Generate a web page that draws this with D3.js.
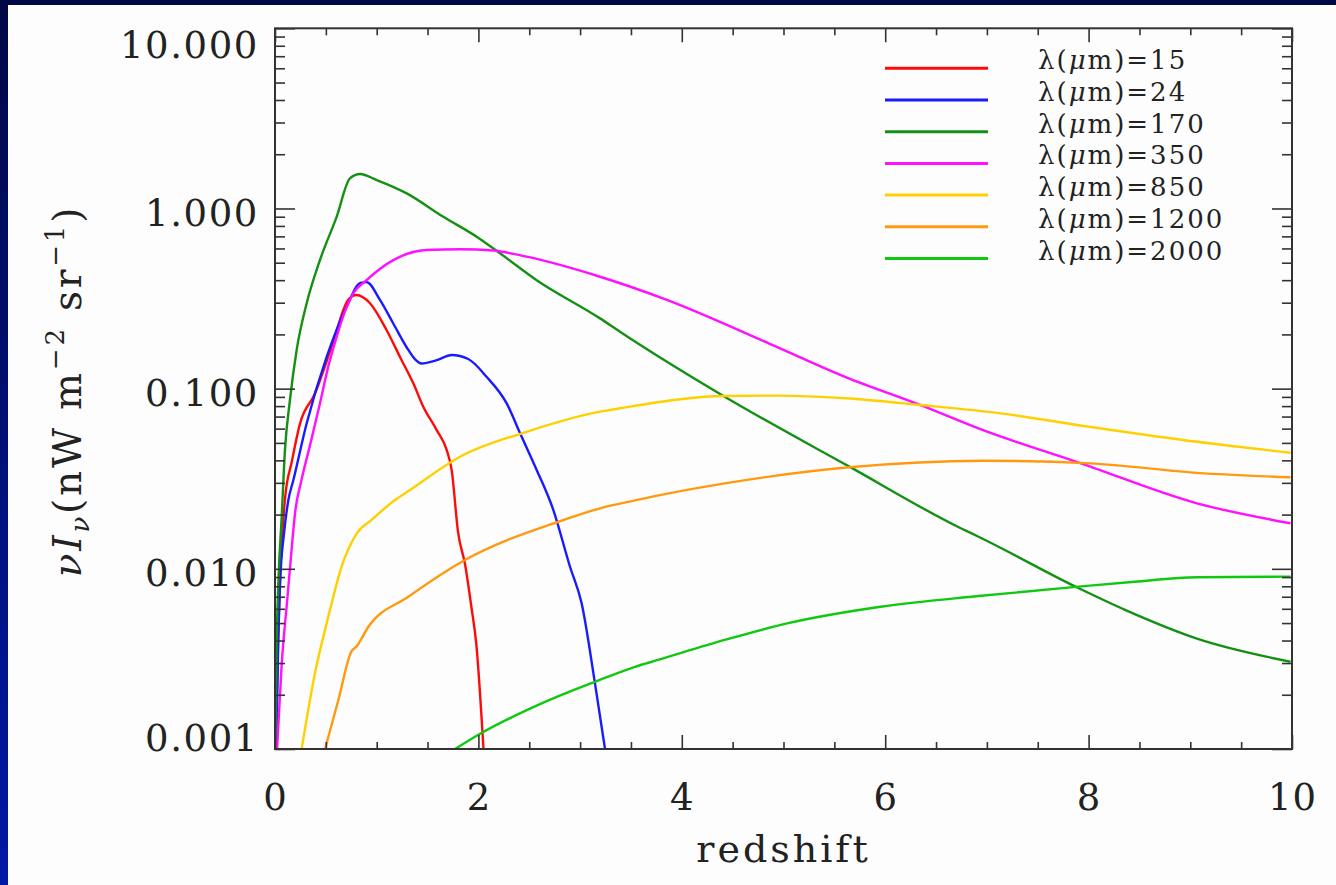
<!DOCTYPE html>
<html><head><meta charset="utf-8">
<script src="https://cdn.jsdelivr.net/npm/d3@7"></script>
<style>html,body{margin:0;padding:0;background:#fff;overflow:hidden}</style>
</head><body><svg id="c" width="1336" height="885"></svg>
<script>
// ---- data ----
const legendLabels = ["15","24","170","350","850","1200","2000"];
const seriesColors = ["#ff0a0a","#1a1aff","#149014","#ff10ff","#ffd000","#ff9a10","#10c810"];

const z15 = [0.008,0.03,0.05,0.1,0.164,0.246,0.393,0.557,0.72,0.80,0.934,1.098,1.229,1.36,1.458,1.59,1.688,1.737,1.80,1.87,1.93,1.98,2.05];
const v15 = [0.001,0.004,0.009,0.025,0.039,0.064,0.094,0.171,0.311,0.331,0.298,0.211,0.150,0.107,0.0794,0.0589,0.0457,0.0354,0.016,0.0105,0.0062,0.0038,0.001];

const z24 = [0.012,0.03,0.05,0.09,0.131,0.18,0.311,0.508,0.705,0.84,0.90,1.032,1.163,1.311,1.38,1.442,1.59,1.737,1.90,2.08,2.278,2.41,2.573,2.737,2.90,3.015,3.146,3.245];
const v24 = [0.001,0.0035,0.0083,0.016,0.024,0.031,0.064,0.150,0.285,0.386,0.39,0.311,0.230,0.164,0.145,0.138,0.144,0.1536,0.146,0.1164,0.0828,0.0565,0.0354,0.0212,0.0103,0.00644,0.00232,0.001];

const z170 = [0.003,0.015,0.033,0.066,0.098,0.147,0.213,0.311,0.442,0.606,0.737,0.836,1.0,1.295,1.655,1.983,2.212,2.573,3.196,3.392,4.422,5.648,6.743,6.918,7.904,8.364,9.065,9.985];
const v170 = [0.001,0.0035,0.0083,0.0195,0.0457,0.0865,0.164,0.297,0.517,0.899,1.469,1.553,1.438,1.213,0.899,0.697,0.564,0.40,0.2455,0.207,0.0902,0.0369,0.0168,0.01507,0.0078,0.0059,0.0041,0.00305];

const z350 = [0.02,0.065,0.12,0.15,0.2,0.26,0.35,0.442,0.52,0.606,0.70,0.77,0.90,1.163,1.49,1.82,2.147,2.475,3.196,3.853,4.86,5.605,6.349,6.963,7.925,9.065,9.985];
const v350 = [0.001,0.0029,0.0067,0.0105,0.021,0.031,0.050,0.0828,0.13,0.194,0.28,0.338,0.40,0.517,0.588,0.594,0.584,0.540,0.418,0.311,0.178,0.1164,0.0811,0.0589,0.0385,0.0231,0.0179];

const z850 = [0.262,0.393,0.524,0.655,0.803,0.95,1.18,1.327,1.819,2.475,3.196,3.392,4.422,4.948,5.605,6.349,7.137,8.014,9.065,9.985];
const v850 = [0.001,0.00263,0.00542,0.0103,0.0157,0.0187,0.0241,0.0274,0.0419,0.0576,0.0745,0.0778,0.091,0.0915,0.0885,0.0811,0.0729,0.0614,0.0507,0.0441];

const z1200 = [0.492,0.623,0.754,0.80,0.918,1.311,1.868,2.786,3.196,3.54,4.422,5.648,6.963,8.014,9.065,9.985];
const v1200 = [0.001,0.00187,0.0035,0.0037,0.00477,0.007,0.0112,0.01825,0.02166,0.024,0.0298,0.0366,0.0398,0.0385,0.0341,0.0322];

const z2000 = [1.77,2.0,2.622,3.146,3.54,3.765,4.422,5.036,5.955,6.918,7.904,8.452,9.065,9.985];
const v2000 = [0.001,0.0012,0.00179,0.00236,0.00286,0.00312,0.00403,0.00498,0.00616,0.00706,0.00796,0.00848,0.00898,0.00905];

const xMajorTicks = [0,2,4,6,8,10];
const yMajorTicks = [0.001,0.01,0.1,1,10];
const xTitle = "redshift";

// ---- layout ----
const W = 1336, H = 885;
const L = 275, R = 1292, T = 28.3, B = 749;
const svg = d3.select("#c");
const font = "DejaVu Serif";

const defs = svg.append("defs");
const grad = defs.append("linearGradient").attr("id","bg").attr("x1",0).attr("y1",0).attr("x2",0).attr("y2",1);
grad.append("stop").attr("offset","0%").attr("stop-color","#000846");
grad.append("stop").attr("offset","100%").attr("stop-color","#0019a6");
svg.append("rect").attr("width",W).attr("height",H).attr("fill","url(#bg)");
svg.append("rect").attr("x",8).attr("y",5).attr("width",W-8).attr("height",H-5).attr("fill","#fdfdfd");

defs.append("clipPath").attr("id","plotclip").append("rect")
  .attr("x",L).attr("y",T).attr("width",R-L).attr("height",B-T);

const x = d3.scaleLinear().domain([0,10]).range([L,R]);
const y = d3.scaleLog().domain([0.001,10]).range([B,T]);

const xMinor = d3.range(0,10.01,0.5).filter(v => !xMajorTicks.includes(v));
const yMinor = [];
yMajorTicks.slice(0,-1).forEach(d => { for (let k=2;k<=9;k++) yMinor.push(d*k); });

// ---- curves ----
const series = [[z15,v15],[z24,v24],[z170,v170],[z350,v350],[z850,v850],[z1200,v1200],[z2000,v2000]];
const line = d3.line().x(d => x(d[0])).y(d => y(d[1])).curve(d3.curveMonotoneX);
const gLines = svg.append("g").attr("clip-path","url(#plotclip)");
series.forEach((s,i) => {
  const pts = s[0].map((z,j) => [z, s[1][j]]);
  gLines.append("path").datum(pts).attr("d",line)
    .attr("fill","none").attr("stroke",seriesColors[i]).attr("stroke-width",2.4)
    .attr("stroke-linejoin","round");
});

// ---- axes ----
const tickColor = "#333";
function styleAxis(g){
  g.select(".domain").remove();
  g.selectAll(".tick line").attr("stroke",tickColor).attr("stroke-width",1.6);
}
// bottom
const gxb = svg.append("g").attr("transform",`translate(0,${B})`)
  .call(d3.axisBottom(x).tickValues(xMajorTicks).tickSize(-14).tickFormat(d3.format("d")));
styleAxis(gxb);
gxb.selectAll("text").attr("y",61).attr("dy",0).attr("font-family",font).attr("font-size",37)
  .attr("fill","#222").attr("letter-spacing",1);
svg.append("g").attr("transform",`translate(0,${B})`)
  .call(d3.axisBottom(x).tickValues(xMinor).tickSize(-7).tickFormat("")).call(styleAxis);
// top
svg.append("g").attr("transform",`translate(0,${T})`)
  .call(d3.axisTop(x).tickValues(xMajorTicks).tickSize(-14).tickFormat("")).call(styleAxis);
svg.append("g").attr("transform",`translate(0,${T})`)
  .call(d3.axisTop(x).tickValues(xMinor).tickSize(-7).tickFormat("")).call(styleAxis);
// left
const gyl = svg.append("g").attr("transform",`translate(${L},0)`)
  .call(d3.axisLeft(y).tickValues(yMajorTicks).tickSize(-20).tickFormat(d3.format(".3f")));
styleAxis(gyl);
gyl.selectAll("text").attr("x",-16).attr("dy",0)
  .attr("y", d => d === 10 ? 29 : (d === 0.001 ? 1 : 17))
  .attr("font-family",font).attr("font-size",37).attr("fill","#222").attr("letter-spacing",1.6);
svg.append("g").attr("transform",`translate(${L},0)`)
  .call(d3.axisLeft(y).tickValues(yMinor).tickSize(-10).tickFormat("")).call(styleAxis);
// right
svg.append("g").attr("transform",`translate(${R},0)`)
  .call(d3.axisRight(y).tickValues(yMajorTicks).tickSize(-20).tickFormat("")).call(styleAxis);
svg.append("g").attr("transform",`translate(${R},0)`)
  .call(d3.axisRight(y).tickValues(yMinor).tickSize(-10).tickFormat("")).call(styleAxis);

// frame
svg.append("rect").attr("x",L).attr("y",T).attr("width",R-L).attr("height",B-T)
  .attr("fill","none").attr("stroke",tickColor).attr("stroke-width",2);

// ---- titles ----
svg.append("text").attr("x",(L+R)/2).attr("y",862).attr("text-anchor","middle")
  .attr("font-family",font).attr("font-size",38).attr("letter-spacing",3).attr("fill","#222").text(xTitle);

const yt = svg.append("text").attr("transform","translate(81,391) rotate(-90)")
  .attr("text-anchor","middle").attr("font-family",font).attr("font-size",39)
  .attr("letter-spacing",2.8).attr("fill","#222");
yt.append("tspan").attr("font-style","italic").text("νI");
yt.append("tspan").attr("font-style","italic").attr("font-size",26).attr("dy",8).text("ν");
yt.append("tspan").attr("dy",-8).text("(nW m");
yt.append("tspan").attr("font-size",26).attr("dy",-17).text("−2");
yt.append("tspan").attr("dy",17).text(" sr");
yt.append("tspan").attr("font-size",26).attr("dy",-17).text("−1");
yt.append("tspan").attr("dy",17).text(")");

// ---- legend ----
const gl = svg.append("g");
legendLabels.forEach((lab,i) => {
  const ly = 68.3 + i*31.7;
  gl.append("line").attr("x1",885).attr("x2",988).attr("y1",ly).attr("y2",ly)
    .attr("stroke",seriesColors[i]).attr("stroke-width",3);
  const t = gl.append("text").attr("x",1038).attr("y",ly+1)
    .attr("font-family",font).attr("font-size",26).attr("letter-spacing",2).attr("fill","#222");
  t.append("tspan").text("λ(");
  t.append("tspan").attr("font-style","italic").text("μ");
  t.append("tspan").text("m)=" + lab);
});
</script>
</body></html>
